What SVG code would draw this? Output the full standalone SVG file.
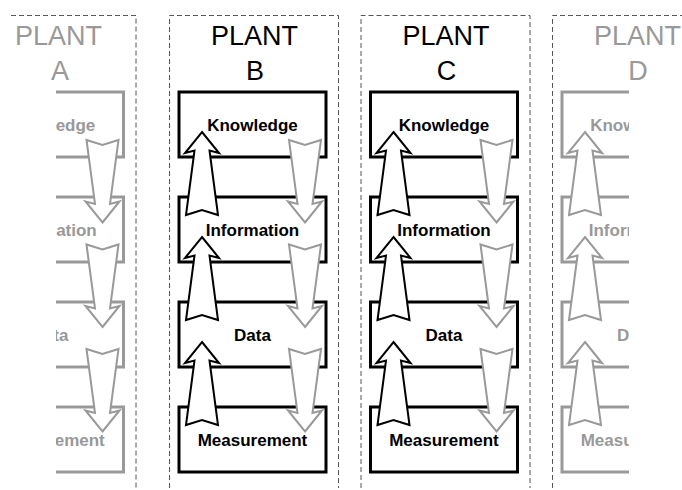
<svg xmlns="http://www.w3.org/2000/svg" width="682" height="490" viewBox="0 0 682 490">
<style>
.frame{fill:none;stroke:#555;stroke-width:1;stroke-dasharray:5,3}
.box{fill:#fff;stroke:#000;stroke-width:3}
.gbox{fill:#fff;stroke:#999;stroke-width:3}
.title{font-family:"Liberation Sans",Arial,sans-serif;font-size:27px;text-anchor:middle;fill:#000}
.gtitle{font-family:"Liberation Sans",Arial,sans-serif;font-size:27px;text-anchor:middle;fill:#999}
.lbl{font-family:"Liberation Sans",Arial,sans-serif;font-size:17px;font-weight:bold;text-anchor:middle;fill:#000}
.glbl{font-family:"Liberation Sans",Arial,sans-serif;font-size:17px;font-weight:bold;text-anchor:middle;fill:#999}
.up{fill:#fff;stroke:#000;stroke-width:2;stroke-linejoin:miter}
.gup{fill:#fff;stroke:#999;stroke-width:2;stroke-linejoin:miter}
.dn{fill:#fff;stroke:#999;stroke-width:2;stroke-linejoin:miter}
</style>
<defs>
<clipPath id="clipA"><rect x="56" y="0" width="700" height="490"/></clipPath>
<clipPath id="clipD"><rect x="0" y="0" width="629" height="490"/></clipPath>
<path id="upArrow" d="M0,0 L17,21 L7.5,18.5 L16,83 L0,78 L-16,83 L-7.5,18.5 L-17,21 Z"/>
<path id="dnArrow" d="M0,0 L17,-21 L7.5,-18.5 L16,-82.5 L0,-77.5 L-16,-82.5 L-7.5,-18.5 L-17,-21 Z"/>
</defs>
<rect width="682" height="490" fill="#fff"/>

<!-- PLANT A (faded, clipped) -->
<g id="plantA">
<path class="frame" d="M11,15.5 H136 V488"/>
<text class="gtitle" x="58.5" y="45">PLANT</text>
<text class="gtitle" x="60" y="80">A</text>
<g clip-path="url(#clipA)">
<g transform="translate(-202.5,0)">
<g id="A-knowledge"><rect class="gbox" x="179" y="92" width="147" height="65"/><text class="glbl" x="252.5" y="130.5">Knowledge</text></g>
<g id="A-information"><rect class="gbox" x="179" y="197" width="147" height="65"/><text class="glbl" x="252.5" y="235.5">Information</text></g>
<g id="A-data"><rect class="gbox" x="179" y="302" width="147" height="65"/><text class="glbl" x="252.5" y="340.5">Data</text></g>
<g id="A-measurement"><rect class="gbox" x="179" y="407" width="147" height="65"/><text class="glbl" x="252.5" y="445.5">Measurement</text></g>
<g id="A-connectors">
<use href="#dnArrow" class="dn" transform="translate(305,222.5)"/>
<use href="#dnArrow" class="dn" transform="translate(305,327)"/>
<use href="#dnArrow" class="dn" transform="translate(305,431.5)"/>
</g>
</g>
</g>
</g>

<!-- PLANT B -->
<g id="plantB">
<path class="frame" d="M169.5,488 V15.5 H338.5 V488"/>
<text class="title" x="254.5" y="45">PLANT</text>
<text class="title" x="255" y="80">B</text>
<g id="B-knowledge"><rect class="box" x="179" y="92" width="147" height="65"/></g>
<g id="B-information"><rect class="box" x="179" y="197" width="147" height="65"/></g>
<g id="B-data"><rect class="box" x="179" y="302" width="147" height="65"/></g>
<g id="B-measurement"><rect class="box" x="179" y="407" width="147" height="65"/></g>
<g id="B-connectors">
<use href="#upArrow" class="up" transform="translate(202,132)"/>
<use href="#upArrow" class="up" transform="translate(202,237)"/>
<use href="#upArrow" class="up" transform="translate(202,342)"/>
<use href="#dnArrow" class="dn" transform="translate(305,222.5)"/>
<use href="#dnArrow" class="dn" transform="translate(305,327)"/>
<use href="#dnArrow" class="dn" transform="translate(305,431.5)"/>
</g>
<g id="B-labels">
<text class="lbl" x="252.5" y="130.5">Knowledge</text>
<text class="lbl" x="252.5" y="235.5">Information</text>
<text class="lbl" x="252.5" y="340.5">Data</text>
<text class="lbl" x="252.5" y="445.5">Measurement</text>
</g>
</g>

<!-- PLANT C -->
<g id="plantC" transform="translate(191.5,0)">
<path class="frame" d="M169.5,488 V15.5 H338.5 V488"/>
<text class="title" x="254.5" y="45">PLANT</text>
<text class="title" x="255" y="80">C</text>
<g id="C-knowledge"><rect class="box" x="179" y="92" width="147" height="65"/></g>
<g id="C-information"><rect class="box" x="179" y="197" width="147" height="65"/></g>
<g id="C-data"><rect class="box" x="179" y="302" width="147" height="65"/></g>
<g id="C-measurement"><rect class="box" x="179" y="407" width="147" height="65"/></g>
<g id="C-connectors">
<use href="#upArrow" class="up" transform="translate(202,132)"/>
<use href="#upArrow" class="up" transform="translate(202,237)"/>
<use href="#upArrow" class="up" transform="translate(202,342)"/>
<use href="#dnArrow" class="dn" transform="translate(305,222.5)"/>
<use href="#dnArrow" class="dn" transform="translate(305,327)"/>
<use href="#dnArrow" class="dn" transform="translate(305,431.5)"/>
</g>
<g id="C-labels">
<text class="lbl" x="252.5" y="130.5">Knowledge</text>
<text class="lbl" x="252.5" y="235.5">Information</text>
<text class="lbl" x="252.5" y="340.5">Data</text>
<text class="lbl" x="252.5" y="445.5">Measurement</text>
</g>
</g>

<!-- PLANT D (faded, clipped) -->
<g id="plantD">
<path class="frame" d="M552.5,488 V15.5 H682"/>
<text class="gtitle" x="637.5" y="45">PLANT</text>
<text class="gtitle" x="638" y="80">D</text>
<g clip-path="url(#clipD)">
<g transform="translate(383,0)">
<g id="D-knowledge"><rect class="gbox" x="179" y="92" width="147" height="65"/></g>
<g id="D-information"><rect class="gbox" x="179" y="197" width="147" height="65"/></g>
<g id="D-data"><rect class="gbox" x="179" y="302" width="147" height="65"/></g>
<g id="D-measurement"><rect class="gbox" x="179" y="407" width="147" height="65"/></g>
<g id="D-connectors">
<use href="#upArrow" class="gup" transform="translate(202,132)"/>
<use href="#upArrow" class="gup" transform="translate(202,237)"/>
<use href="#upArrow" class="gup" transform="translate(202,342)"/>
</g>
<g id="D-labels">
<text class="glbl" x="252.5" y="130.5">Knowledge</text>
<text class="glbl" x="252.5" y="235.5">Information</text>
<text class="glbl" x="252.5" y="340.5">Data</text>
<text class="glbl" x="252.5" y="445.5">Measurement</text>
</g>
</g>
</g>
</g>
</svg>
